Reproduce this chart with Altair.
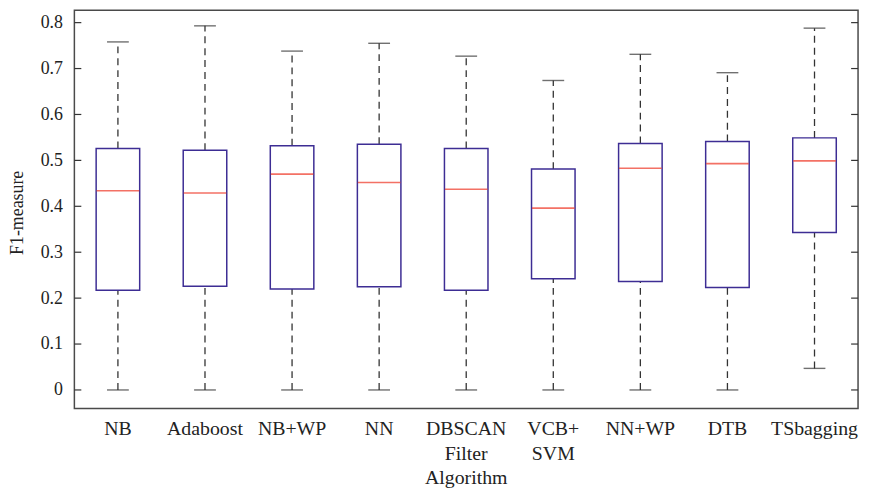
import altair as alt
import pandas as pd

categories = ["NB", "Adaboost", "NB+WP", "NN", "DBSCAN|Filter|Algorithm",
              "VCB+|SVM", "NN+WP", "DTB", "TSbagging"]
whisker_max = [0.758, 0.793, 0.738, 0.755, 0.727, 0.674, 0.731, 0.691, 0.788]
q3_vals = [0.526, 0.522, 0.532, 0.535, 0.526, 0.481, 0.537, 0.541, 0.549]
median_vals = [0.434, 0.429, 0.470, 0.452, 0.437, 0.396, 0.483, 0.493, 0.499]
q1_vals = [0.217, 0.226, 0.220, 0.225, 0.217, 0.242, 0.236, 0.223, 0.343]
whisker_min = [0.0, 0.0, 0.0, 0.0, 0.0, 0.0, 0.0, 0.0, 0.047]
y_ticks = [0, 0.1, 0.2, 0.3, 0.4, 0.5, 0.6, 0.7, 0.8]

df = pd.DataFrame({
    "cat": categories,
    "max": whisker_max,
    "q3": q3_vals,
    "med": median_vals,
    "q1": q1_vals,
    "min": whisker_min,
})
ticks_df = pd.DataFrame({"t": y_ticks})

W, H = 791, 402
FONT = "Liberation Serif"
BOX = "#3d2d94"
MED = "#ee3524"
WH = "#333333"

yscale = alt.Scale(domain=[-0.0404, 0.827], nice=False, zero=False)
xenc = alt.X("cat:N", sort=categories,
             scale=alt.Scale(paddingInner=0, paddingOuter=0),
             axis=alt.Axis(title=None, labelAngle=0, domain=False, ticks=False,
                           tickSize=0, labelPadding=10, labelFontSize=20,
                           labelFont=FONT, labelColor="#222222",
                           labelLineHeight=25,
                           labelExpr="split(datum.value, '|')"))
yaxis = alt.Axis(title="F1-measure", values=y_ticks, domain=False, ticks=False,
                 tickSize=0, labelPadding=12, grid=False, labelFontSize=18,
                 labelFont=FONT, labelColor="#222222", titleFont=FONT,
                 titleFontSize=18, titleFontWeight="normal", titleColor="#222222",
                 titleX=-57, titleY=204, titleAngle=-90, titleBaseline="middle",
                 titleAlign="center",
                 labelExpr="datum.value == 0 ? '0' : format(datum.value, '.1f')")

base = alt.Chart(df)

upper = base.mark_rule(color=WH, strokeWidth=1.3, strokeDash=[7, 5]).encode(
    x=xenc, y=alt.Y("q3:Q", scale=yscale, axis=yaxis), y2="max:Q")
lower = base.mark_rule(color=WH, strokeWidth=1.3, strokeDash=[7, 5]).encode(
    x=xenc, y=alt.Y("min:Q", scale=yscale), y2="q1:Q")
box = base.mark_bar(width={"band": 0.5}, fill="white", stroke=BOX,
                    strokeWidth=1.5).encode(
    x=xenc, y=alt.Y("q1:Q", scale=yscale), y2="q3:Q")
median = base.mark_tick(size=43, thickness=1.6, color=MED).encode(
    x=xenc, y=alt.Y("med:Q", scale=yscale))
cap_top = base.mark_tick(size=22, thickness=1.4, color=WH).encode(
    x=xenc, y=alt.Y("max:Q", scale=yscale))
cap_bot = base.mark_tick(size=22, thickness=1.4, color=WH).encode(
    x=xenc, y=alt.Y("min:Q", scale=yscale))

tick_l = alt.Chart(ticks_df).mark_rule(color="#333333", strokeWidth=1.2).encode(
    y=alt.Y("t:Q", scale=yscale), x=alt.value(0), x2=alt.value(7))
tick_r = alt.Chart(ticks_df).mark_rule(color="#333333", strokeWidth=1.2).encode(
    y=alt.Y("t:Q", scale=yscale), x=alt.value(W - 7), x2=alt.value(W))

chart = alt.layer(upper, lower, box, median, cap_top, cap_bot, tick_l, tick_r).properties(
    width=W, height=H,
    background="white",
    autosize=alt.AutoSizeParams(type="none"),
    padding={"left": 67, "top": 0, "right": 5, "bottom": 80},
).configure_view(stroke="#4a4a4a", strokeWidth=1.5)

chart.save("out.html", embed_options={"renderer": "svg", "actions": False})
